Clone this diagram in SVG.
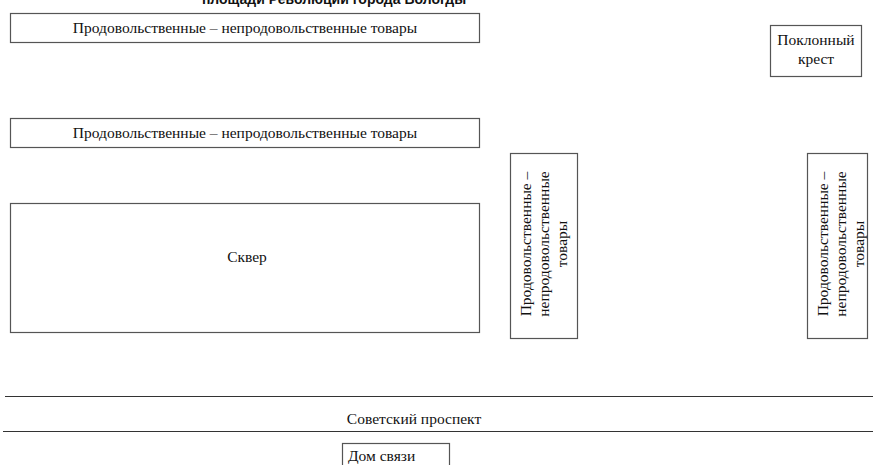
<svg xmlns="http://www.w3.org/2000/svg" width="873" height="465" viewBox="0 0 873 465">
<style>
.b{fill:#fff;stroke:#555;stroke-width:1.2}
.t{font-family:"Liberation Serif","Times New Roman",serif;font-size:15.5px;fill:#111}
.c{text-anchor:middle}
.h{font-family:"Liberation Sans",Arial,sans-serif;font-size:14px;font-weight:bold;fill:#111;text-anchor:middle}
.l{stroke:#333;stroke-width:1.2;fill:none}
</style>
<rect width="873" height="465" fill="#fff"/>
<text class="h" x="334" y="4">площади Революции города Вологды</text>
<g id="food1"><rect class="b" x="10.5" y="13.5" width="469" height="29"/><text class="t c" x="245" y="33">Продовольственные – непродовольственные товары</text></g>
<g id="cross"><rect class="b" x="770.5" y="25.5" width="91" height="51"/><text class="t c" x="816" y="45">Поклонный</text><text class="t c" x="816" y="64">крест</text></g>
<g id="food2"><rect class="b" x="10.5" y="118.5" width="469" height="29"/><text class="t c" x="245" y="138">Продовольственные – непродовольственные товары</text></g>
<g id="square"><rect class="b" x="10.5" y="203.5" width="469" height="129"/><text class="t c" x="247" y="262">Сквер</text></g>
<g id="food3"><rect class="b" x="510.5" y="153.5" width="67" height="185"/>
<text class="t c" transform="translate(531,244) rotate(-90)">Продовольственные –</text>
<text class="t c" transform="translate(549,244) rotate(-90)">непродовольственные</text>
<text class="t c" transform="translate(567,244) rotate(-90)">товары</text></g>
<g id="food4"><rect class="b" x="807.5" y="153.5" width="60" height="185"/>
<text class="t c" transform="translate(828,244) rotate(-90)">Продовольственные –</text>
<text class="t c" transform="translate(846,244) rotate(-90)">непродовольственные</text>
<text class="t c" transform="translate(864,244) rotate(-90)">товары</text></g>
<g id="street"><line class="l" x1="5" y1="396.5" x2="873" y2="396.5"/><line class="l" x1="3" y1="431.5" x2="873" y2="431.5"/><text class="t c" x="414" y="424">Советский проспект</text></g>
<g id="post"><rect class="b" x="342.5" y="443.5" width="107" height="30"/><text class="t" x="348" y="461">Дом связи</text></g>
</svg>
